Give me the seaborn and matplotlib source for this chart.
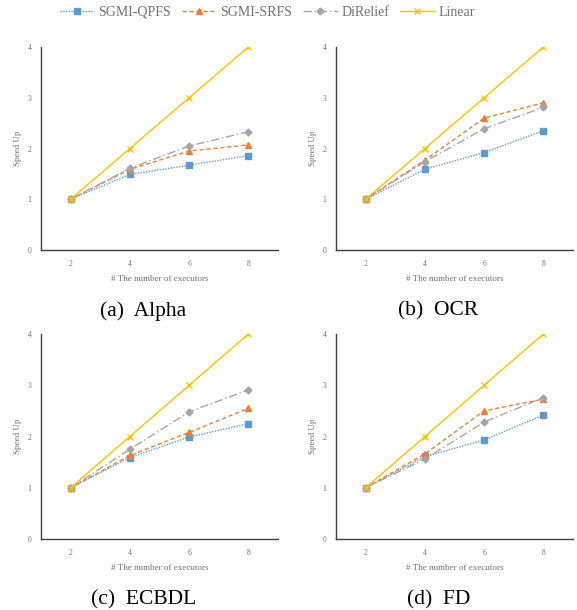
import matplotlib
matplotlib.use("Agg")
import matplotlib.pyplot as plt
import numpy as np
import pandas as pd
import seaborn as sns

EXECUTORS = [2, 4, 6, 8]
PANELS = ["(a)  Alpha", "(b)  OCR", "(c)  ECBDL", "(d)  FD"]

QPFS = {
    "(a)  Alpha": [1.0, 1.49, 1.67, 1.86],
    "(b)  OCR": [1.0, 1.59, 1.92, 2.35],
    "(c)  ECBDL": [1.0, 1.59, 1.99, 2.25],
    "(d)  FD": [1.0, 1.61, 1.93, 2.42],
}
SRFS = {
    "(a)  Alpha": [1.0, 1.59, 1.95, 2.07],
    "(b)  OCR": [1.0, 1.77, 2.60, 2.90],
    "(c)  ECBDL": [1.0, 1.63, 2.08, 2.55],
    "(d)  FD": [1.0, 1.66, 2.50, 2.73],
}
DIRELIEF = {
    "(a)  Alpha": [1.0, 1.61, 2.05, 2.33],
    "(b)  OCR": [1.0, 1.74, 2.39, 2.81],
    "(c)  ECBDL": [1.0, 1.75, 2.48, 2.91],
    "(d)  FD": [1.0, 1.56, 2.28, 2.76],
}
LINEAR = [1.0, 2.0, 3.0, 4.0]

SERIES = [
    ("SGMI-QPFS", QPFS, "#5b9bd5", (0, (1, 1)), "s", 5),
    ("SGMI-SRFS", SRFS, "#ed7d31", (0, (3, 2)), "^", 5),
    ("DiRelief", DIRELIEF, "#a5a5a5", (0, (6, 2, 1, 2)), "D", 3.5),
    ("Linear", {p: LINEAR for p in PANELS}, "#ffc000", "-", "x", 5),
]

sns.set_theme(style="white")
plt.rcParams["font.family"] = ["Liberation Serif", "DejaVu Serif"]

fig = plt.figure(figsize=(5.77, 6.10), dpi=100)
W, H = 577, 610
boxes = [(41, 47, 278, 250), (336, 47, 573, 250), (41, 334, 278, 539), (336, 334, 573, 539)]

handles = []
for panel, (x0, y0, x1, y1) in zip(PANELS, boxes):
    ax = fig.add_axes([x0 / W, 1 - y1 / H, (x1 - x0) / W, (y1 - y0) / H])
    for name, data, color, ls, marker, ms in SERIES:
        df = pd.DataFrame({"x": EXECUTORS, "y": data[panel]})
        sns.lineplot(data=df, x="x", y="y", ax=ax, color=color, linestyle=ls,
                     linewidth=1.0, marker=marker, markersize=ms,
                     markeredgecolor=color, markeredgewidth=1.0, label=name)
    ax.set_xlim(1, 9)
    ax.set_ylim(0, 4)
    ax.set_xticks(EXECUTORS)
    ax.set_yticks([0, 1, 2, 3, 4])
    ax.tick_params(axis="both", labelsize=5.5, labelcolor="#707070", length=0, pad=7)
    for s in ["top", "right"]:
        ax.spines[s].set_visible(False)
    for s in ["left", "bottom"]:
        ax.spines[s].set_color("#404040")
        ax.spines[s].set_linewidth(1.0)
    ax.set_xlabel("# The number of executors", fontsize=6.5, color="#707070", labelpad=5)
    ax.set_ylabel("Speed Up", fontsize=6.5, color="#707070", labelpad=4)
    handles, labels = ax.get_legend_handles_labels()
    ax.get_legend().remove()
    fig.text((x0 + x1) / 2 / W - 16 / W, 1 - (y1 + 61) / H, panel, ha="center", va="center",
             fontsize=15.5, color="black")

fig.legend(handles, labels, loc="center", bbox_to_anchor=(0.463, 0.98), ncol=4,
           frameon=False, fontsize=10, labelcolor="#707070", handlelength=2.5,
           columnspacing=0.8, handletextpad=0.25)

fig.savefig("out.png", dpi=100)
